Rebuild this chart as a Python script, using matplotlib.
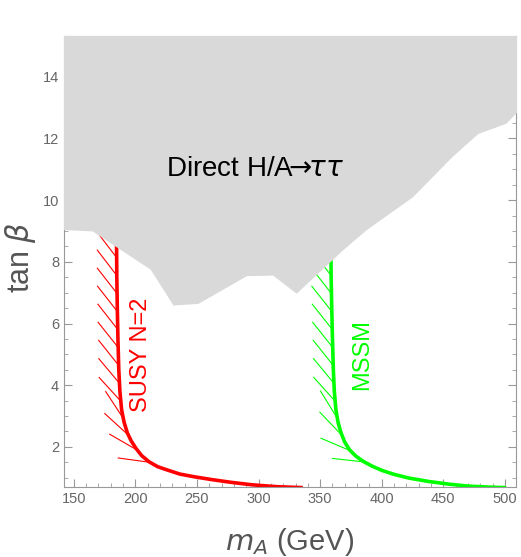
import matplotlib.pyplot as plt
import matplotlib.patheffects as pe
import numpy as np

plt.rcParams['font.family'] = ['Liberation Sans', 'DejaVu Sans']

# excluded region from direct H/A -> tau tau searches (lower edge)
grey_m = [140, 165, 212, 230.5, 250.7, 290, 311.5, 330.5, 368, 387, 425, 457, 478, 500.7, 512]
grey_tan = [9.05, 9.0, 7.76, 6.6, 6.65, 7.55, 7.57, 6.98, 8.38, 9.03, 10.11, 11.41, 12.16, 12.49, 12.95]

# SUSY N=2 bound
susy_m = [184.6, 184.9, 185.3, 185.8, 186.5, 187.4, 188.8, 190.8, 193.5, 196.5, 200.5, 205, 211,
          218, 226, 236, 248, 262, 278, 295, 315, 336]
susy_tan = [9.0, 7.5, 6.5, 5.5, 4.5, 3.8, 3.2, 2.8, 2.45, 2.2, 1.95, 1.72, 1.52,
            1.36, 1.25, 1.12, 1.03, 0.94, 0.85, 0.77, 0.71, 0.68]

# MSSM bound
mssm_m = [358.6, 358.9, 359.4, 360.0, 360.7, 361.5, 362.8, 364.5, 367, 370, 374, 379, 385,
          392, 400, 410, 422, 438, 455, 470, 485, 501]
mssm_tan = [9.0, 7.5, 6.5, 5.5, 4.5, 3.8, 3.2, 2.8, 2.45, 2.15, 1.9, 1.7, 1.53,
            1.38, 1.24, 1.11, 0.99, 0.88, 0.79, 0.73, 0.70, 0.68]

# hatched stretches: (first index, end index, tick angle)
hatch_parts = [(0, 7, -143), (6, 14, -158)]

fig = plt.figure(figsize=(5.21, 5.57), dpi=100)
ax = fig.add_axes([0.1228, 0.1251, 0.8676, 0.8103])

ax.fill_between(grey_m, grey_tan, 16, color='#d9d9d9', lw=0, zorder=3)

for m, t, col in [(susy_m, susy_tan, '#ff0000'), (mssm_m, mssm_tan, '#00ff00')]:
    ax.plot(m, t, color=col, lw=2.6, zorder=2, solid_capstyle='butt')
    for i0, i1, ang in hatch_parts:
        ax.plot(m[i0:i1], t[i0:i1], color=col, lw=0.8, zorder=2,
                path_effects=[pe.withTickedStroke(angle=ang, spacing=12.5, length=1.85)])

ax.text(296.7, 11.0, 'Direct H/A$\\!\\!\\rightarrow\\!\\!\\tau\\tau$', fontsize=20,
        ha='center', va='center', zorder=4)
ax.text(204.8, 4.98, 'SUSY N=2', color='#ff0000', fontsize=17, rotation=90,
        ha='center', va='center')
ax.text(384, 4.98, 'MSSM', color='#00ff00', fontsize=17, rotation=90,
        ha='center', va='center')

ax.set_xlim(142, 509)
ax.set_ylim(0.69, 15.32)
ax.set_xticks(np.arange(150, 501, 50))
ax.set_xticks(np.arange(150, 510, 10), minor=True)
ax.set_yticks(np.arange(2, 15, 2))
ax.set_yticks(np.arange(1, 15.5, 0.5), minor=True)
ax.tick_params(which='both', direction='in', top=True, right=True, colors='#999999',
               labelcolor='#666666', labelsize=10.5)
ax.tick_params(which='major', length=6, width=0.8)
ax.tick_params(which='minor', length=3, width=0.6)
for s in ax.spines.values():
    s.set_color('#999999')

ax.set_xlabel('$m_A$ (GeV)', fontsize=21, color='#555555')
ax.set_ylabel('tan $\\beta$', fontsize=22, color='#555555')
ax.xaxis.set_label_coords(0.5, -0.085)
ax.yaxis.set_label_coords(-0.058, 0.51)

fig.savefig('out.png', dpi=100)
